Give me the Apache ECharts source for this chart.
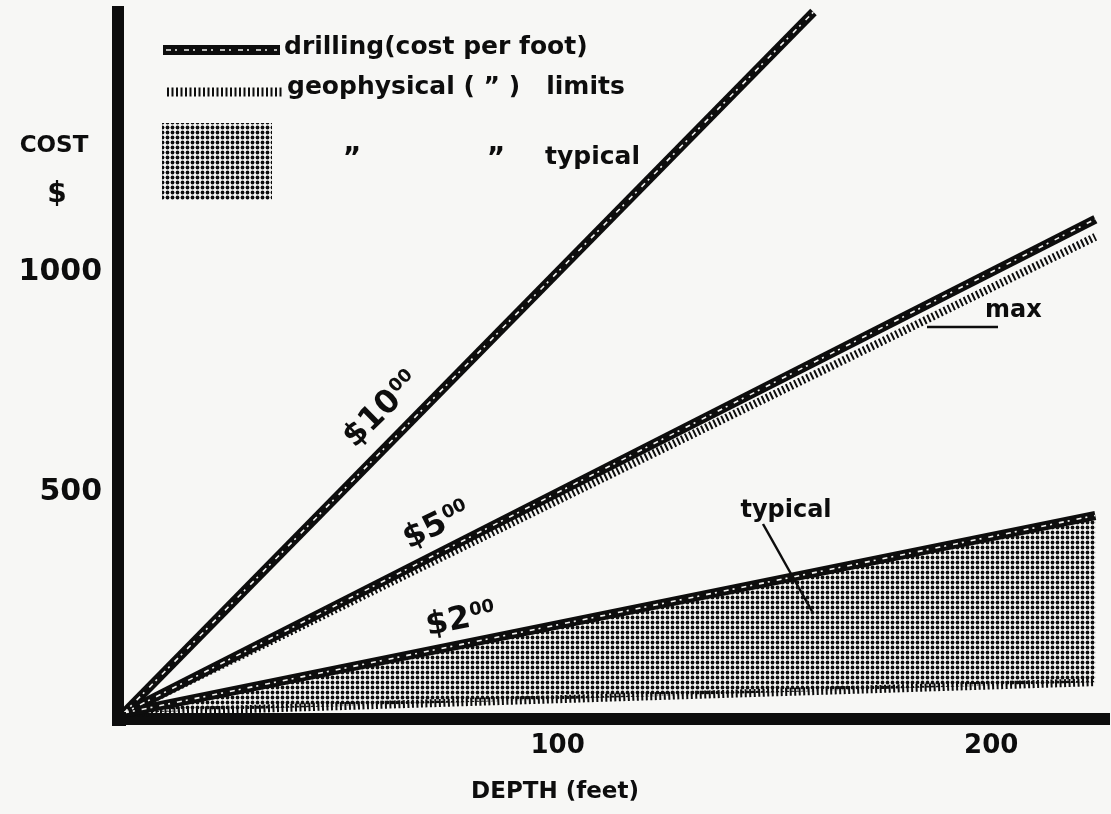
<!DOCTYPE html>
<html>
<head>
<meta charset="utf-8">
<script src="https://cdn.jsdelivr.net/npm/echarts@6/dist/echarts.min.js"></script>
<style>
  html, body { margin: 0; padding: 0; background: #f7f7f5; }
  #chart { width: 1111px; height: 814px; }
</style>
</head>
<body>
<div id="chart"></div>
<script>
// drilling cost per foot lines (depth ft, cost $)
const drill10 = [[0, 0], [159, 1590]]
const drill5 = [[0, 0], [224, 1120]]
const drill2 = [[0, 0], [224, 448]]
// geophysical limits
const geoMax = [[0, 0], [224, 1080]]
const geoTypicalLow = [[0, 0], [224, 70]]
const geoTypicalHigh = [[0, 0], [224, 440]]
// tick labels
const depthTicks = [100, 200]
const costTicks = [500, 1000]

const FONT = '"DejaVu Sans", sans-serif'
const INK = '#0d0d0d'
const PAPER = '#f7f7f5'

// halftone dot pattern
function dotPattern() {
  const c = document.createElement('canvas')
  c.width = 5
  c.height = 5
  const ctx = c.getContext('2d')
  ctx.fillStyle = INK
  ctx.beginPath()
  ctx.arc(2.5, 2.5, 1.9, 0, Math.PI * 2)
  ctx.fill()
  return c
}
const pattern = { image: dotPattern(), repeat: 'repeat' }

function drillLine(name, data) {
  return [
    {
      name: name,
      type: 'line',
      data: data,
      symbol: 'none',
      z: 5,
      lineStyle: { color: INK, width: 9, cap: 'butt' },
    },
    {
      name: name + '-speckle',
      type: 'line',
      data: data,
      symbol: 'none',
      z: 6,
      lineStyle: { color: '#f2f2f0', width: 1.6, type: [5, 4, 2, 7] },
    },
  ]
}

function rateLabel(main, x, y, rot) {
  return {
    type: 'text',
    x: x,
    y: y,
    rotation: rot,
    z: 20,
    style: {
      text: '{a|' + main + '}{b|00}',
      align: 'center',
      verticalAlign: 'middle',
      fill: INK,
      rich: {
        a: { fontFamily: FONT, fontWeight: 'bold', fontSize: 32, fill: INK },
        b: { fontFamily: FONT, fontWeight: 'bold', fontSize: 18, fill: INK, padding: [0, 0, 14, 1] },
      },
    },
  }
}

function txt(text, x, y, size, align) {
  return {
    type: 'text',
    x: x,
    y: y,
    z: 20,
    style: {
      text: text,
      font: 'bold ' + size + 'px ' + FONT,
      fill: INK,
      align: align || 'left',
      verticalAlign: 'middle',
    },
  }
}

const chart = echarts.init(document.getElementById('chart'))
chart.setOption({
  backgroundColor: PAPER,
  animation: false,
  grid: { left: 124, right: 7, top: 12, bottom: 101 },
  xAxis: {
    type: 'value',
    min: 0,
    max: 226,
    interval: 100,
    offset: 6,
    axisLine: { onZero: false, lineStyle: { color: INK, width: 12, cap: 'square' } },
    axisTick: { show: false },
    splitLine: { show: false },
    axisLabel: {
      margin: 14,
      color: INK,
      fontFamily: FONT,
      fontWeight: 'bold',
      fontSize: 26,
      formatter: v => (depthTicks.indexOf(v) >= 0 ? String(v) : ''),
    },
  },
  yAxis: {
    type: 'value',
    min: 0,
    max: 1590,
    interval: 500,
    offset: 6,
    axisLine: { show: true, onZero: false, lineStyle: { color: INK, width: 12, cap: 'square' } },
    axisTick: { show: false },
    splitLine: { show: false },
    axisLabel: {
      margin: 16,
      color: INK,
      fontFamily: FONT,
      fontWeight: 'bold',
      fontSize: 30,
      formatter: v => (costTicks.indexOf(v) >= 0 ? String(v) : ''),
    },
  },
  series: [
    {
      // shaded band between typical low and high geophysical costs
      name: 'geophysical typical',
      type: 'custom',
      data: [0],
      z: 2,
      renderItem: function (params, api) {
        const pts = geoTypicalHigh.map(p => api.coord(p))
          .concat(geoTypicalLow.slice().reverse().map(p => api.coord(p)))
        return {
          type: 'polygon',
          shape: { points: pts },
          style: { fill: pattern },
        }
      },
    },
    {
      name: 'geophysical typical low',
      type: 'line',
      data: geoTypicalLow,
      symbol: 'none',
      z: 4,
      lineStyle: { color: INK, width: 8, type: [2, 2.5] },
    },
    {
      name: 'geophysical max',
      type: 'line',
      data: geoMax,
      symbol: 'none',
      z: 4,
      lineStyle: { color: INK, width: 8, type: [2, 2.5] },
    },
    ...drillLine('drilling $10', drill10),
    ...drillLine('drilling $5', drill5),
    ...drillLine('drilling $2', drill2),
  ],
  graphic: [
    // corner of the axes
    { type: 'rect', shape: { x: 112, y: 712, width: 14, height: 14 }, style: { fill: INK }, z: 10 },
    // legend
    { type: 'line', shape: { x1: 163, y1: 50, x2: 280, y2: 50 }, style: { stroke: INK, lineWidth: 10 }, z: 20 },
    { type: 'line', shape: { x1: 166, y1: 50, x2: 277, y2: 50 }, style: { stroke: '#f2f2f0', lineWidth: 1.5, lineDash: [5, 4, 2, 7] }, z: 21 },
    txt('drilling(cost per foot)', 284, 47, 25),
    { type: 'line', shape: { x1: 167, y1: 92, x2: 282, y2: 92 }, style: { stroke: INK, lineWidth: 9, lineDash: [2, 2.5] }, z: 20 },
    txt('geophysical ( \u201d )   limits', 287, 87, 25),
    { type: 'rect', shape: { x: 162, y: 123, width: 110, height: 77 }, style: { fill: pattern }, z: 20 },
    txt('\u201d', 352, 160, 28, 'center'),
    txt('\u201d', 496, 160, 28, 'center'),
    txt('typical', 545, 157, 25),
    // axis names
    txt('COST', 54, 146, 23, 'center'),
    txt('$', 57, 195, 28, 'center'),
    txt('DEPTH (feet)', 555, 792, 23, 'center'),
    // rate labels along the lines
    rateLabel('$10', 382, 410, 0.78),
    rateLabel('$5', 437, 526, 0.46),
    rateLabel('$2', 461, 620, 0.2),
    // annotations
    txt('max', 985, 311, 24),
    { type: 'line', shape: { x1: 927, y1: 327, x2: 998, y2: 327 }, style: { stroke: INK, lineWidth: 2.5 }, z: 20 },
    txt('typical', 786, 511, 24, 'center'),
    { type: 'line', shape: { x1: 763, y1: 524, x2: 813, y2: 613 }, style: { stroke: INK, lineWidth: 2.5 }, z: 20 },
  ],
})
</script>
</body>
</html>
